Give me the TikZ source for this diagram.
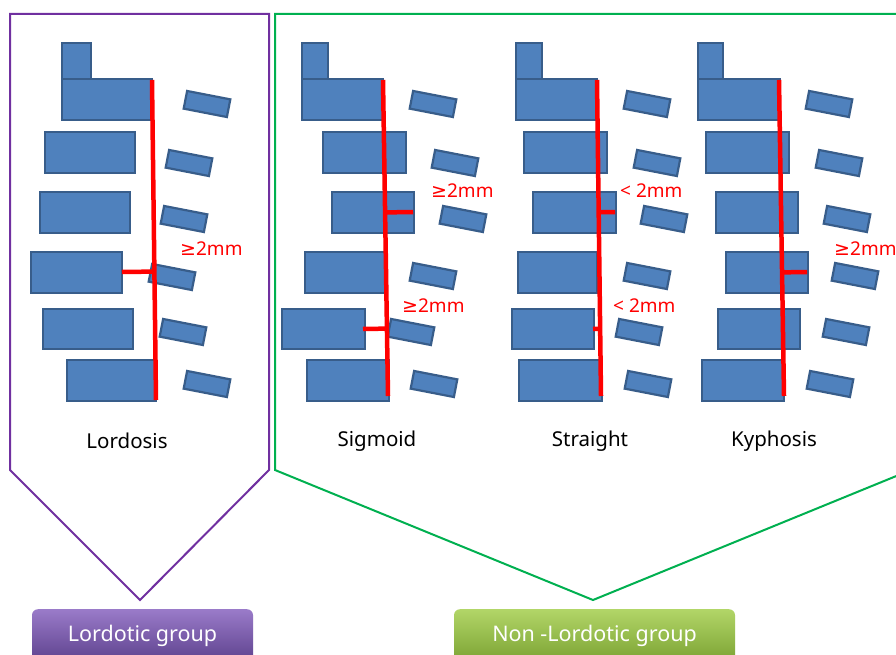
\documentclass[tikz,border=0pt]{standalone}
\usepackage{fontspec}
\setmainfont{Noto Sans}
\newfontfamily\symf{DejaVu Sans}
\usetikzlibrary{fit,calc}
\definecolor{vfill}{HTML}{4F81BD}
\definecolor{vline}{HTML}{385D8A}
\definecolor{grpP}{HTML}{7030A0}
\definecolor{grpG}{HTML}{00B050}
\definecolor{redc}{HTML}{FF0000}
\definecolor{pTop}{HTML}{9A7BC9}
\definecolor{pBot}{HTML}{5C408C}
\definecolor{gTop}{HTML}{B2D668}
\definecolor{gBot}{HTML}{7AA132}
\tikzset{
  vb/.style={draw=vline,fill=vfill,line width=2.2pt,inner sep=0pt},
  pr/.style={draw=vline,fill=vfill,line width=2.2pt,inner sep=0pt,minimum width=44pt,minimum height=18pt,rotate=-11},
  redl/.style={draw=redc,line width=4.5pt},
  meas/.style={text=redc,font=\fontsize{19}{22}\selectfont,anchor=west,inner sep=0pt},
  clabel/.style={font=\fontsize{20.5}{24}\selectfont,text=black,inner sep=0pt},
  btn/.style={rounded corners=6pt,minimum width=221pt,minimum height=54pt,anchor=north,text=white,font=\fontsize{21.5}{26}\selectfont,inner sep=0pt},
}
\newcommand\vbody[5]{\node[vb,fit={(#2,#3)(#4,#5)}] (#1) {};}
\newcommand\vproc[3]{\node[pr] (#1) at (#2,#3) {};}
\newcommand\geqsym{{\symf ≥}}
\begin{document}
\begin{tikzpicture}[x=1pt,y=-1pt]
\clip (0,0) rectangle (896,655);
\fill[white] (0,0) rectangle (896,655);
% group outlines
\draw[grpP,line width=2pt,line join=miter] (10,470) -- (10,14) -- (269,14) -- (269,470) -- (140,600) -- cycle;
\draw[grpG,line width=2pt,line join=miter] (275,470) -- (275,14) -- (911,14) -- (911,470) -- (593,600) -- cycle;
% ---------- Lordosis ----------
\vbody{l0}{62}{43}{91}{79}
\vbody{l1}{62}{79}{152}{120}
\vbody{l2}{45}{132}{135}{173}
\vbody{l3}{40}{192}{130}{233}
\vbody{l4}{31}{252}{122}{293}
\vbody{l5}{43}{309}{133}{349}
\vbody{l6}{67}{360}{156}{401}
\vproc{lp1}{207}{104}
\vproc{lp2}{189}{163}
\vproc{lp3}{184}{219}
\vproc{lp4}{172}{277}
\vproc{lp5}{183}{332}
\vproc{lp6}{207}{384}
% ---------- Sigmoid ----------
\vbody{s0}{302}{43}{328}{79}
\vbody{s1}{302}{79}{383}{120}
\vbody{s2}{323}{132}{406}{173}
\vbody{s3}{332}{192}{414}{233}
\vbody{s4}{305}{252}{385}{293}
\vbody{s5}{282}{309}{365}{349}
\vbody{s6}{307}{360}{389}{401}
\vproc{sp1}{433}{104}
\vproc{sp2}{455}{163}
\vproc{sp3}{463}{219}
\vproc{sp4}{433}{276}
\vproc{sp5}{411}{332}
\vproc{sp6}{434}{384}
% ---------- Straight ----------
\vbody{t0}{516}{43}{542}{79}
\vbody{t1}{516}{79}{597}{120}
\vbody{t2}{524}{132}{607}{173}
\vbody{t3}{533}{192}{616}{233}
\vbody{t4}{518}{252}{597}{293}
\vbody{t5}{512}{309}{594}{349}
\vbody{t6}{519}{360}{602}{401}
\vproc{tp1}{647}{104}
\vproc{tp2}{657}{163}
\vproc{tp3}{664}{219}
\vproc{tp4}{647}{276}
\vproc{tp5}{639}{332}
\vproc{tp6}{648}{384}
% ---------- Kyphosis ----------
\vbody{k0}{698}{43}{723}{79}
\vbody{k1}{698}{79}{780}{120}
\vbody{k2}{706}{132}{789}{173}
\vbody{k3}{716}{192}{798}{233}
\vbody{k4}{726}{252}{808}{293}
\vbody{k5}{718}{309}{800}{349}
\vbody{k6}{702}{360}{784}{401}
\vproc{kp1}{829}{104}
\vproc{kp2}{839}{163}
\vproc{kp3}{847}{219}
\vproc{kp4}{855}{276}
\vproc{kp5}{846}{332}
\vproc{kp6}{830}{384}
% ---------- red reference lines ----------
\coordinate (lA) at (152,80);  \coordinate (lB) at (156,400);
\coordinate (sA) at (383,80);  \coordinate (sB) at (388,396);
\coordinate (tA) at (597,80);  \coordinate (tB) at (601,396);
\coordinate (kA) at (779,80);  \coordinate (kB) at (784,396);
\draw[redl] (lA) -- (lB);
\draw[redl] (sA) -- (sB);
\draw[redl] (tA) -- (tB);
\draw[redl] (kA) -- (kB);
\coordinate (lT) at (122,272);
\coordinate (sT1) at (413,212);
\coordinate (sT2) at (363,329);
\coordinate (tT1) at (615,212);
\coordinate (tT2) at (593,329);
\coordinate (kT) at (807,272);
\draw[redl] (lT) -- ($(lA)!(lT)!(lB)$);
\draw[redl] (sT1) -- ($(sA)!(sT1)!(sB)$);
\draw[redl] (sT2) -- ($(sA)!(sT2)!(sB)$);
\draw[redl] (tT1) -- ($(tA)!(tT1)!(tB)$);
\draw[redl] (tT2) -- ($(tA)!(tT2)!(tB)$);
\draw[redl] (kT) -- ($(kA)!(kT)!(kB)$);
% ---------- measurement labels ----------
\node[meas] (m1) at (180,249) {\geqsym2mm};
\node[meas] (m2) at (431,191) {\geqsym2mm};
\node[meas] (m3) at (402,306) {\geqsym2mm};
\node[meas] (m4) at (620,191) {< 2mm};
\node[meas] (m5) at (613,306) {< 2mm};
\node[meas] (m6) at (834,249) {\geqsym2mm};
% ---------- column labels ----------
\node[clabel] (c1) at (127,441) {Lordosis};
\node[clabel] (c2) at (377,441) {Sigmoid};
\node[clabel] (c3) at (590,441) {Straight};
\node[clabel] (c4) at (774,441) {Kyphosis};
% ---------- group buttons ----------
\node[btn,top color=pTop,bottom color=pBot] (g1) at (142.5,609) {Lordotic group};
\node[btn,minimum width=281pt,top color=gTop,bottom color=gBot] (g2) at (594.5,609) {Non -Lordotic group};
\end{tikzpicture}
\end{document}
